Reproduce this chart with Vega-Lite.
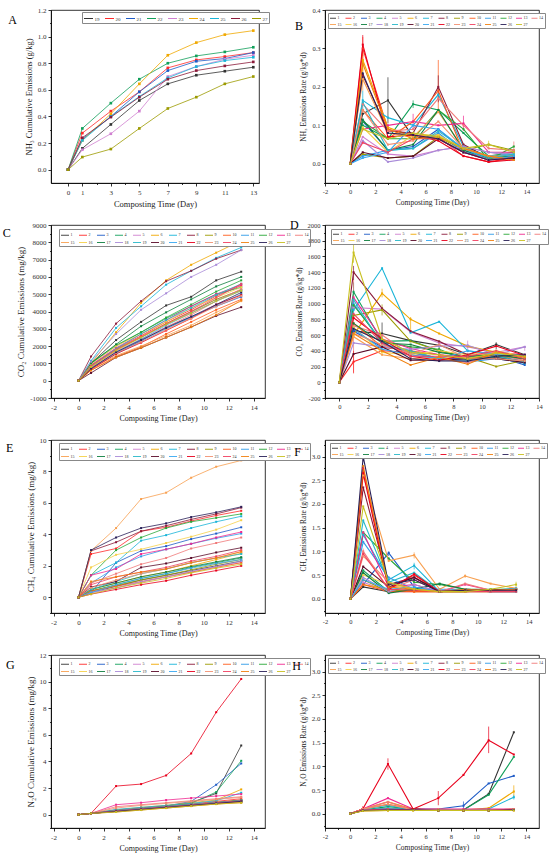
{
"$schema":"https://vega.github.io/schema/vega-lite/v6.json",
"padding":{"left":2,"top":5,"right":2,"bottom":2},
"config":{"font":"Liberation Serif","view":{"stroke":"#000","strokeWidth":0.8},
"axis":{"grid":false,"domainColor":"#000","domainWidth":0.8,"tickColor":"#000","tickWidth":0.8,"labelColor":"#333","labelFont":"Liberation Serif","titleFont":"Liberation Serif","titleFontWeight":"normal","titleColor":"#222","labelPadding":2,"labelFlush":false,"labelOverlap":false},
"legend":{"orient":"none","direction":"horizontal","title":null,"labelFont":"Liberation Serif","labelColor":"#333","symbolType":"stroke","strokeColor":"#888","fillColor":"white","rowPadding":0.5,"labelOffset":1,"symbolOffset":0},
"title":{"fontSize":12,"fontWeight":"normal","font":"Liberation Serif","anchor":"start","frame":"bounds","orient":"top","offset":0,"baseline":"top","color":"#000"}},
"datasets":{
"A":[
{"s":19,"t":0,"v":0},{"s":19,"t":1,"v":0.16},{"s":19,"t":3,"v":0.34},{"s":19,"t":5,"v":0.52},{"s":19,"t":7,"v":0.645},{"s":19,"t":9,"v":0.71},{"s":19,"t":11,"v":0.74},{"s":19,"t":13,"v":0.77},
{"s":20,"t":0,"v":0},{"s":20,"t":1,"v":0.275},{"s":20,"t":3,"v":0.44},{"s":20,"t":5,"v":0.585},{"s":20,"t":7,"v":0.765},{"s":20,"t":9,"v":0.825},{"s":20,"t":11,"v":0.85},{"s":20,"t":13,"v":0.88},
{"s":21,"t":0,"v":0},{"s":21,"t":1,"v":0.23},{"s":21,"t":3,"v":0.40},{"s":21,"t":5,"v":0.585},{"s":21,"t":7,"v":0.745},{"s":21,"t":9,"v":0.815},{"s":21,"t":11,"v":0.835},{"s":21,"t":13,"v":0.88},
{"s":22,"t":0,"v":0},{"s":22,"t":1,"v":0.31},{"s":22,"t":3,"v":0.50},{"s":22,"t":5,"v":0.68},{"s":22,"t":7,"v":0.80},{"s":22,"t":9,"v":0.855},{"s":22,"t":11,"v":0.885},{"s":22,"t":13,"v":0.92},
{"s":23,"t":0,"v":0},{"s":23,"t":1,"v":0.15},{"s":23,"t":3,"v":0.27},{"s":23,"t":5,"v":0.44},{"s":23,"t":7,"v":0.70},{"s":23,"t":9,"v":0.775},{"s":23,"t":11,"v":0.83},{"s":23,"t":13,"v":0.86},
{"s":24,"t":0,"v":0},{"s":24,"t":1,"v":0.22},{"s":24,"t":3,"v":0.42},{"s":24,"t":5,"v":0.645},{"s":24,"t":7,"v":0.86},{"s":24,"t":9,"v":0.955},{"s":24,"t":11,"v":1.015},{"s":24,"t":13,"v":1.045},
{"s":25,"t":0,"v":0},{"s":25,"t":1,"v":0.22},{"s":25,"t":3,"v":0.40},{"s":25,"t":5,"v":0.55},{"s":25,"t":7,"v":0.69},{"s":25,"t":9,"v":0.775},{"s":25,"t":11,"v":0.82},{"s":25,"t":13,"v":0.845},
{"s":26,"t":0,"v":0},{"s":26,"t":1,"v":0.24},{"s":26,"t":3,"v":0.395},{"s":26,"t":5,"v":0.545},{"s":26,"t":7,"v":0.68},{"s":26,"t":9,"v":0.745},{"s":26,"t":11,"v":0.78},{"s":26,"t":13,"v":0.81},
{"s":27,"t":0,"v":0},{"s":27,"t":1,"v":0.095},{"s":27,"t":3,"v":0.155},{"s":27,"t":5,"v":0.31},{"s":27,"t":7,"v":0.46},{"s":27,"t":9,"v":0.545},{"s":27,"t":11,"v":0.645},{"s":27,"t":13,"v":0.70}
],
"B":[
{"s":1,"t":0,"v":0},{"s":1,"t":1,"v":0.13},{"s":1,"t":3,"v":0.165},{"s":1,"t":5,"v":0.07},{"s":1,"t":7,"v":0.065},{"s":1,"t":9,"v":0.03},{"s":1,"t":11,"v":0.015},{"s":1,"t":13,"v":0.015},
{"s":2,"t":0,"v":0},{"s":2,"t":1,"v":0.30},{"s":2,"t":3,"v":0.09},{"s":2,"t":5,"v":0.075},{"s":2,"t":7,"v":0.07},{"s":2,"t":9,"v":0.02},{"s":2,"t":11,"v":0.005},{"s":2,"t":13,"v":0.015},
{"s":3,"t":0,"v":0},{"s":3,"t":1,"v":0.11},{"s":3,"t":3,"v":0.035},{"s":3,"t":5,"v":0.045},{"s":3,"t":7,"v":0.09},{"s":3,"t":9,"v":0.035},{"s":3,"t":11,"v":0.015},{"s":3,"t":13,"v":0.02},
{"s":4,"t":0,"v":0},{"s":4,"t":1,"v":0.10},{"s":4,"t":3,"v":0.065},{"s":4,"t":5,"v":0.155},{"s":4,"t":7,"v":0.14},{"s":4,"t":9,"v":0.08},{"s":4,"t":11,"v":0.02},{"s":4,"t":13,"v":0.03},
{"s":5,"t":0,"v":0},{"s":5,"t":1,"v":0.07},{"s":5,"t":3,"v":0.025},{"s":5,"t":5,"v":0.02},{"s":5,"t":7,"v":0.035},{"s":5,"t":9,"v":0.045},{"s":5,"t":11,"v":0.03},{"s":5,"t":13,"v":0.02},
{"s":6,"t":0,"v":0},{"s":6,"t":1,"v":0.27},{"s":6,"t":3,"v":0.095},{"s":6,"t":5,"v":0.07},{"s":6,"t":7,"v":0.075},{"s":6,"t":9,"v":0.04},{"s":6,"t":11,"v":0.02},{"s":6,"t":13,"v":0.01},
{"s":7,"t":0,"v":0},{"s":7,"t":1,"v":0.165},{"s":7,"t":3,"v":0.12},{"s":7,"t":5,"v":0.10},{"s":7,"t":7,"v":0.18},{"s":7,"t":9,"v":0.045},{"s":7,"t":11,"v":0.02},{"s":7,"t":13,"v":0.025},
{"s":8,"t":0,"v":0},{"s":8,"t":1,"v":0.23},{"s":8,"t":3,"v":0.085},{"s":8,"t":5,"v":0.08},{"s":8,"t":7,"v":0.20},{"s":8,"t":9,"v":0.05},{"s":8,"t":11,"v":0.015},{"s":8,"t":13,"v":0.015},
{"s":9,"t":0,"v":0},{"s":9,"t":1,"v":0.025},{"s":9,"t":3,"v":0.015},{"s":9,"t":5,"v":0.02},{"s":9,"t":7,"v":0.07},{"s":9,"t":9,"v":0.035},{"s":9,"t":11,"v":0.05},{"s":9,"t":13,"v":0.035},
{"s":10,"t":0,"v":0},{"s":10,"t":1,"v":0.14},{"s":10,"t":3,"v":0.065},{"s":10,"t":5,"v":0.11},{"s":10,"t":7,"v":0.19},{"s":10,"t":9,"v":0.03},{"s":10,"t":11,"v":0.015},{"s":10,"t":13,"v":0.015},
{"s":11,"t":0,"v":0},{"s":11,"t":1,"v":0.02},{"s":11,"t":3,"v":0.035},{"s":11,"t":5,"v":0.04},{"s":11,"t":7,"v":0.08},{"s":11,"t":9,"v":0.03},{"s":11,"t":11,"v":0.02},{"s":11,"t":13,"v":0.02},
{"s":12,"t":0,"v":0},{"s":12,"t":1,"v":0.11},{"s":12,"t":3,"v":0.065},{"s":12,"t":5,"v":0.065},{"s":12,"t":7,"v":0.14},{"s":12,"t":9,"v":0.09},{"s":12,"t":11,"v":0.01},{"s":12,"t":13,"v":0.045},
{"s":13,"t":0,"v":0},{"s":13,"t":1,"v":0.09},{"s":13,"t":3,"v":0.10},{"s":13,"t":5,"v":0.11},{"s":13,"t":7,"v":0.10},{"s":13,"t":9,"v":0.105},{"s":13,"t":11,"v":0.03},{"s":13,"t":13,"v":0.03},
{"s":14,"t":0,"v":0},{"s":14,"t":1,"v":0.155},{"s":14,"t":3,"v":0.085},{"s":14,"t":5,"v":0.09},{"s":14,"t":7,"v":0.17},{"s":14,"t":9,"v":0.10},{"s":14,"t":11,"v":0.04},{"s":14,"t":13,"v":0.035},
{"s":15,"t":0,"v":0},{"s":15,"t":1,"v":0.22},{"s":15,"t":3,"v":0.08},{"s":15,"t":5,"v":0.07},{"s":15,"t":7,"v":0.135},{"s":15,"t":9,"v":0.04},{"s":15,"t":11,"v":0.02},{"s":15,"t":13,"v":0.02},
{"s":16,"t":0,"v":0},{"s":16,"t":1,"v":0.095},{"s":16,"t":3,"v":0.03},{"s":16,"t":5,"v":0.075},{"s":16,"t":7,"v":0.075},{"s":16,"t":9,"v":0.04},{"s":16,"t":11,"v":0.015},{"s":16,"t":13,"v":0.02},
{"s":17,"t":0,"v":0},{"s":17,"t":1,"v":0.115},{"s":17,"t":3,"v":0.035},{"s":17,"t":5,"v":0.05},{"s":17,"t":7,"v":0.14},{"s":17,"t":9,"v":0.035},{"s":17,"t":11,"v":0.015},{"s":17,"t":13,"v":0.02},
{"s":18,"t":0,"v":0},{"s":18,"t":1,"v":0.06},{"s":18,"t":3,"v":0.005},{"s":18,"t":5,"v":0.015},{"s":18,"t":7,"v":0.035},{"s":18,"t":9,"v":0.045},{"s":18,"t":11,"v":0.03},{"s":18,"t":13,"v":0.025},
{"s":19,"t":0,"v":0},{"s":19,"t":1,"v":0.16},{"s":19,"t":3,"v":0.035},{"s":19,"t":5,"v":0.04},{"s":19,"t":7,"v":0.085},{"s":19,"t":9,"v":0.04},{"s":19,"t":11,"v":0.015},{"s":19,"t":13,"v":0.025},
{"s":20,"t":0,"v":0},{"s":20,"t":1,"v":0.03},{"s":20,"t":3,"v":0.015},{"s":20,"t":5,"v":0.02},{"s":20,"t":7,"v":0.065},{"s":20,"t":9,"v":0.03},{"s":20,"t":11,"v":0.01},{"s":20,"t":13,"v":0.015},
{"s":21,"t":0,"v":0},{"s":21,"t":1,"v":0.015},{"s":21,"t":3,"v":0.03},{"s":21,"t":5,"v":0.10},{"s":21,"t":7,"v":0.09},{"s":21,"t":9,"v":0.04},{"s":21,"t":11,"v":0.01},{"s":21,"t":13,"v":0.02},
{"s":22,"t":0,"v":0},{"s":22,"t":1,"v":0.31},{"s":22,"t":3,"v":0.07},{"s":22,"t":5,"v":0.075},{"s":22,"t":7,"v":0.06},{"s":22,"t":9,"v":0.02},{"s":22,"t":11,"v":0.005},{"s":22,"t":13,"v":0.01},
{"s":23,"t":0,"v":0},{"s":23,"t":1,"v":0.14},{"s":23,"t":3,"v":0.05},{"s":23,"t":5,"v":0.06},{"s":23,"t":7,"v":0.11},{"s":23,"t":9,"v":0.04},{"s":23,"t":11,"v":0.02},{"s":23,"t":13,"v":0.01},
{"s":24,"t":0,"v":0},{"s":24,"t":1,"v":0.055},{"s":24,"t":3,"v":0.03},{"s":24,"t":5,"v":0.065},{"s":24,"t":7,"v":0.065},{"s":24,"t":9,"v":0.03},{"s":24,"t":11,"v":0.01},{"s":24,"t":13,"v":0.015},
{"s":25,"t":0,"v":0},{"s":25,"t":1,"v":0.26},{"s":25,"t":3,"v":0.09},{"s":25,"t":5,"v":0.065},{"s":25,"t":7,"v":0.07},{"s":25,"t":9,"v":0.04},{"s":25,"t":11,"v":0.02},{"s":25,"t":13,"v":0.01},
{"s":26,"t":0,"v":0},{"s":26,"t":1,"v":0.235},{"s":26,"t":3,"v":0.08},{"s":26,"t":5,"v":0.075},{"s":26,"t":7,"v":0.065},{"s":26,"t":9,"v":0.03},{"s":26,"t":11,"v":0.01},{"s":26,"t":13,"v":0.015},
{"s":27,"t":0,"v":0},{"s":27,"t":1,"v":0.09},{"s":27,"t":3,"v":0.065},{"s":27,"t":5,"v":0.08},{"s":27,"t":7,"v":0.07},{"s":27,"t":9,"v":0.04},{"s":27,"t":11,"v":0.05},{"s":27,"t":13,"v":0.03}
],
"Be":[
{"s":22,"t":1,"v":0.28,"v2":0.335},{"s":2,"t":1,"v":0.27,"v2":0.33},{"s":6,"t":1,"v":0.24,"v2":0.30},{"s":15,"t":1,"v":0.19,"v2":0.25},{"s":7,"t":1,"v":0.14,"v2":0.19},{"s":1,"t":3,"v":0.105,"v2":0.225},{"s":10,"t":7,"v":0.14,"v2":0.27},{"s":8,"t":7,"v":0.16,"v2":0.23},{"s":4,"t":5,"v":0.145,"v2":0.165},{"s":13,"t":9,"v":0.085,"v2":0.125},{"s":27,"t":11,"v":0.04,"v2":0.06},{"s":14,"t":13,"v":0.02,"v2":0.058},{"s":13,"t":5,"v":0.09,"v2":0.13}
],
"C":[
{"s":1,"t":0,"v":0},{"s":1,"t":1,"v":1000},{"s":1,"t":3,"v":2350},{"s":1,"t":5,"v":3400},{"s":1,"t":7,"v":4350},{"s":1,"t":9,"v":4850},{"s":1,"t":11,"v":5800},{"s":1,"t":13,"v":6300},
{"s":2,"t":0,"v":0},{"s":2,"t":1,"v":900},{"s":2,"t":3,"v":1850},{"s":2,"t":5,"v":2600},{"s":2,"t":7,"v":3400},{"s":2,"t":9,"v":4100},{"s":2,"t":11,"v":4900},{"s":2,"t":13,"v":5500},
{"s":3,"t":0,"v":0},{"s":3,"t":1,"v":750},{"s":3,"t":3,"v":1600},{"s":3,"t":5,"v":2300},{"s":3,"t":7,"v":3100},{"s":3,"t":9,"v":3700},{"s":3,"t":11,"v":4300},{"s":3,"t":13,"v":4850},
{"s":4,"t":0,"v":0},{"s":4,"t":1,"v":1000},{"s":4,"t":3,"v":2000},{"s":4,"t":5,"v":2800},{"s":4,"t":7,"v":3600},{"s":4,"t":9,"v":4300},{"s":4,"t":11,"v":5000},{"s":4,"t":13,"v":5400},
{"s":5,"t":0,"v":0},{"s":5,"t":1,"v":800},{"s":5,"t":3,"v":1750},{"s":5,"t":5,"v":2500},{"s":5,"t":7,"v":3250},{"s":5,"t":9,"v":3950},{"s":5,"t":11,"v":4700},{"s":5,"t":13,"v":5250},
{"s":6,"t":0,"v":0},{"s":6,"t":1,"v":1000},{"s":6,"t":3,"v":2800},{"s":6,"t":5,"v":4500},{"s":6,"t":7,"v":5800},{"s":6,"t":9,"v":6700},{"s":6,"t":11,"v":7400},{"s":6,"t":13,"v":8100},
{"s":7,"t":0,"v":0},{"s":7,"t":1,"v":1150},{"s":7,"t":3,"v":3050},{"s":7,"t":5,"v":4300},{"s":7,"t":7,"v":5550},{"s":7,"t":9,"v":6350},{"s":7,"t":11,"v":7100},{"s":7,"t":13,"v":7700},
{"s":8,"t":0,"v":0},{"s":8,"t":1,"v":1400},{"s":8,"t":3,"v":3300},{"s":8,"t":5,"v":4600},{"s":8,"t":7,"v":5750},{"s":8,"t":9,"v":6350},{"s":8,"t":11,"v":7050},{"s":8,"t":13,"v":7550},
{"s":9,"t":0,"v":0},{"s":9,"t":1,"v":850},{"s":9,"t":3,"v":1800},{"s":9,"t":5,"v":2500},{"s":9,"t":7,"v":3300},{"s":9,"t":9,"v":4000},{"s":9,"t":11,"v":4700},{"s":9,"t":13,"v":5250},
{"s":10,"t":0,"v":0},{"s":10,"t":1,"v":600},{"s":10,"t":3,"v":1400},{"s":10,"t":5,"v":1950},{"s":10,"t":7,"v":2700},{"s":10,"t":9,"v":3400},{"s":10,"t":11,"v":4100},{"s":10,"t":13,"v":4700},
{"s":11,"t":0,"v":0},{"s":11,"t":1,"v":700},{"s":11,"t":3,"v":1550},{"s":11,"t":5,"v":2250},{"s":11,"t":7,"v":3000},{"s":11,"t":9,"v":3650},{"s":11,"t":11,"v":4350},{"s":11,"t":13,"v":5000},
{"s":12,"t":0,"v":0},{"s":12,"t":1,"v":1050},{"s":12,"t":3,"v":2050},{"s":12,"t":5,"v":2800},{"s":12,"t":7,"v":3650},{"s":12,"t":9,"v":4400},{"s":12,"t":11,"v":5150},{"s":12,"t":13,"v":5800},
{"s":13,"t":0,"v":0},{"s":13,"t":1,"v":900},{"s":13,"t":3,"v":1900},{"s":13,"t":5,"v":2700},{"s":13,"t":7,"v":3500},{"s":13,"t":9,"v":4300},{"s":13,"t":11,"v":5000},{"s":13,"t":13,"v":5550},
{"s":14,"t":0,"v":0},{"s":14,"t":1,"v":800},{"s":14,"t":3,"v":1700},{"s":14,"t":5,"v":2400},{"s":14,"t":7,"v":3100},{"s":14,"t":9,"v":3800},{"s":14,"t":11,"v":4600},{"s":14,"t":13,"v":5300},
{"s":15,"t":0,"v":0},{"s":15,"t":1,"v":700},{"s":15,"t":3,"v":1450},{"s":15,"t":5,"v":2000},{"s":15,"t":7,"v":2600},{"s":15,"t":9,"v":3200},{"s":15,"t":11,"v":3950},{"s":15,"t":13,"v":4600},
{"s":16,"t":0,"v":0},{"s":16,"t":1,"v":950},{"s":16,"t":3,"v":2000},{"s":16,"t":5,"v":2700},{"s":16,"t":7,"v":3400},{"s":16,"t":9,"v":4200},{"s":16,"t":11,"v":4800},{"s":16,"t":13,"v":5400},
{"s":17,"t":0,"v":0},{"s":17,"t":1,"v":1000},{"s":17,"t":3,"v":2100},{"s":17,"t":5,"v":3150},{"s":17,"t":7,"v":3950},{"s":17,"t":9,"v":4700},{"s":17,"t":11,"v":5450},{"s":17,"t":13,"v":6000},
{"s":18,"t":0,"v":0},{"s":18,"t":1,"v":1100},{"s":18,"t":3,"v":2700},{"s":18,"t":5,"v":4100},{"s":18,"t":7,"v":5050},{"s":18,"t":9,"v":6000},{"s":18,"t":11,"v":6700},{"s":18,"t":13,"v":7550},
{"s":19,"t":0,"v":0},{"s":19,"t":1,"v":850},{"s":19,"t":3,"v":1850},{"s":19,"t":5,"v":2700},{"s":19,"t":7,"v":3500},{"s":19,"t":9,"v":4200},{"s":19,"t":11,"v":4950},{"s":19,"t":13,"v":5600},
{"s":20,"t":0,"v":0},{"s":20,"t":1,"v":450},{"s":20,"t":3,"v":1350},{"s":20,"t":5,"v":1900},{"s":20,"t":7,"v":2500},{"s":20,"t":9,"v":3100},{"s":20,"t":11,"v":3750},{"s":20,"t":13,"v":4250},
{"s":21,"t":0,"v":0},{"s":21,"t":1,"v":700},{"s":21,"t":3,"v":1650},{"s":21,"t":5,"v":2400},{"s":21,"t":7,"v":3200},{"s":21,"t":9,"v":3900},{"s":21,"t":11,"v":4600},{"s":21,"t":13,"v":5200},
{"s":22,"t":0,"v":0},{"s":22,"t":1,"v":650},{"s":22,"t":3,"v":1550},{"s":22,"t":5,"v":2200},{"s":22,"t":7,"v":2900},{"s":22,"t":9,"v":3600},{"s":22,"t":11,"v":4400},{"s":22,"t":13,"v":4950},
{"s":23,"t":0,"v":0},{"s":23,"t":1,"v":750},{"s":23,"t":3,"v":1600},{"s":23,"t":5,"v":2250},{"s":23,"t":7,"v":2950},{"s":23,"t":9,"v":3600},{"s":23,"t":11,"v":4300},{"s":23,"t":13,"v":4900},
{"s":24,"t":0,"v":0},{"s":24,"t":1,"v":850},{"s":24,"t":3,"v":1800},{"s":24,"t":5,"v":2550},{"s":24,"t":7,"v":3300},{"s":24,"t":9,"v":4000},{"s":24,"t":11,"v":4800},{"s":24,"t":13,"v":5600},
{"s":25,"t":0,"v":0},{"s":25,"t":1,"v":600},{"s":25,"t":3,"v":1350},{"s":25,"t":5,"v":1900},{"s":25,"t":7,"v":2500},{"s":25,"t":9,"v":3100},{"s":25,"t":11,"v":3800},{"s":25,"t":13,"v":4650},
{"s":26,"t":0,"v":0},{"s":26,"t":1,"v":700},{"s":26,"t":3,"v":1650},{"s":26,"t":5,"v":2350},{"s":26,"t":7,"v":3050},{"s":26,"t":9,"v":3700},{"s":26,"t":11,"v":4400},{"s":26,"t":13,"v":5100},
{"s":27,"t":0,"v":0},{"s":27,"t":1,"v":800},{"s":27,"t":3,"v":1750},{"s":27,"t":5,"v":2500},{"s":27,"t":7,"v":3250},{"s":27,"t":9,"v":3900},{"s":27,"t":11,"v":4600},{"s":27,"t":13,"v":5200}
],
"D":[
{"s":1,"t":0,"v":0},{"s":1,"t":1,"v":650},{"s":1,"t":3,"v":620},{"s":1,"t":5,"v":530},{"s":1,"t":7,"v":470},{"s":1,"t":9,"v":350},{"s":1,"t":11,"v":480},{"s":1,"t":13,"v":350},
{"s":2,"t":0,"v":0},{"s":2,"t":1,"v":260},{"s":2,"t":3,"v":400},{"s":2,"t":5,"v":380},{"s":2,"t":7,"v":300},{"s":2,"t":9,"v":300},{"s":2,"t":11,"v":330},{"s":2,"t":13,"v":300},
{"s":3,"t":0,"v":0},{"s":3,"t":1,"v":650},{"s":3,"t":3,"v":450},{"s":3,"t":5,"v":400},{"s":3,"t":7,"v":300},{"s":3,"t":9,"v":300},{"s":3,"t":11,"v":330},{"s":3,"t":13,"v":220},
{"s":4,"t":0,"v":0},{"s":4,"t":1,"v":1150},{"s":4,"t":3,"v":520},{"s":4,"t":5,"v":530},{"s":4,"t":7,"v":400},{"s":4,"t":9,"v":300},{"s":4,"t":11,"v":320},{"s":4,"t":13,"v":250},
{"s":5,"t":0,"v":0},{"s":5,"t":1,"v":950},{"s":5,"t":3,"v":930},{"s":5,"t":5,"v":640},{"s":5,"t":7,"v":500},{"s":5,"t":9,"v":450},{"s":5,"t":11,"v":380},{"s":5,"t":13,"v":450},
{"s":6,"t":0,"v":0},{"s":6,"t":1,"v":600},{"s":6,"t":3,"v":1130},{"s":6,"t":5,"v":800},{"s":6,"t":7,"v":620},{"s":6,"t":9,"v":460},{"s":6,"t":11,"v":380},{"s":6,"t":13,"v":330},
{"s":7,"t":0,"v":0},{"s":7,"t":1,"v":920},{"s":7,"t":3,"v":1450},{"s":7,"t":5,"v":630},{"s":7,"t":7,"v":770},{"s":7,"t":9,"v":400},{"s":7,"t":11,"v":350},{"s":7,"t":13,"v":240},
{"s":8,"t":0,"v":0},{"s":8,"t":1,"v":1400},{"s":8,"t":3,"v":940},{"s":8,"t":5,"v":650},{"s":8,"t":7,"v":520},{"s":8,"t":9,"v":350},{"s":8,"t":11,"v":320},{"s":8,"t":13,"v":270},
{"s":9,"t":0,"v":0},{"s":9,"t":1,"v":850},{"s":9,"t":3,"v":920},{"s":9,"t":5,"v":520},{"s":9,"t":7,"v":400},{"s":9,"t":9,"v":320},{"s":9,"t":11,"v":200},{"s":9,"t":13,"v":280},
{"s":10,"t":0,"v":0},{"s":10,"t":1,"v":750},{"s":10,"t":3,"v":450},{"s":10,"t":5,"v":400},{"s":10,"t":7,"v":350},{"s":10,"t":9,"v":300},{"s":10,"t":11,"v":350},{"s":10,"t":13,"v":300},
{"s":11,"t":0,"v":0},{"s":11,"t":1,"v":1000},{"s":11,"t":3,"v":500},{"s":11,"t":5,"v":380},{"s":11,"t":7,"v":300},{"s":11,"t":9,"v":260},{"s":11,"t":11,"v":300},{"s":11,"t":13,"v":250},
{"s":12,"t":0,"v":0},{"s":12,"t":1,"v":980},{"s":12,"t":3,"v":520},{"s":12,"t":5,"v":450},{"s":12,"t":7,"v":420},{"s":12,"t":9,"v":280},{"s":12,"t":11,"v":330},{"s":12,"t":13,"v":300},
{"s":13,"t":0,"v":0},{"s":13,"t":1,"v":1080},{"s":13,"t":3,"v":550},{"s":13,"t":5,"v":430},{"s":13,"t":7,"v":350},{"s":13,"t":9,"v":320},{"s":13,"t":11,"v":380},{"s":13,"t":13,"v":350},
{"s":14,"t":0,"v":0},{"s":14,"t":1,"v":720},{"s":14,"t":3,"v":600},{"s":14,"t":5,"v":350},{"s":14,"t":7,"v":300},{"s":14,"t":9,"v":250},{"s":14,"t":11,"v":350},{"s":14,"t":13,"v":280},
{"s":15,"t":0,"v":0},{"s":15,"t":1,"v":580},{"s":15,"t":3,"v":350},{"s":15,"t":5,"v":300},{"s":15,"t":7,"v":320},{"s":15,"t":9,"v":320},{"s":15,"t":11,"v":380},{"s":15,"t":13,"v":300},
{"s":16,"t":0,"v":0},{"s":16,"t":1,"v":700},{"s":16,"t":3,"v":380},{"s":16,"t":5,"v":350},{"s":16,"t":7,"v":400},{"s":16,"t":9,"v":350},{"s":16,"t":11,"v":400},{"s":16,"t":13,"v":330},
{"s":17,"t":0,"v":0},{"s":17,"t":1,"v":750},{"s":17,"t":3,"v":500},{"s":17,"t":5,"v":480},{"s":17,"t":7,"v":380},{"s":17,"t":9,"v":330},{"s":17,"t":11,"v":350},{"s":17,"t":13,"v":300},
{"s":18,"t":0,"v":0},{"s":18,"t":1,"v":500},{"s":18,"t":3,"v":450},{"s":18,"t":5,"v":420},{"s":18,"t":7,"v":460},{"s":18,"t":9,"v":470},{"s":18,"t":11,"v":350},{"s":18,"t":13,"v":450},
{"s":19,"t":0,"v":0},{"s":19,"t":1,"v":1050},{"s":19,"t":3,"v":480},{"s":19,"t":5,"v":400},{"s":19,"t":7,"v":300},{"s":19,"t":9,"v":280},{"s":19,"t":11,"v":330},{"s":19,"t":13,"v":260},
{"s":20,"t":0,"v":0},{"s":20,"t":1,"v":360},{"s":20,"t":3,"v":450},{"s":20,"t":5,"v":280},{"s":20,"t":7,"v":280},{"s":20,"t":9,"v":300},{"s":20,"t":11,"v":300},{"s":20,"t":13,"v":250},
{"s":21,"t":0,"v":0},{"s":21,"t":1,"v":680},{"s":21,"t":3,"v":420},{"s":21,"t":5,"v":350},{"s":21,"t":7,"v":300},{"s":21,"t":9,"v":400},{"s":21,"t":11,"v":360},{"s":21,"t":13,"v":340},
{"s":22,"t":0,"v":0},{"s":22,"t":1,"v":820},{"s":22,"t":3,"v":550},{"s":22,"t":5,"v":330},{"s":22,"t":7,"v":280},{"s":22,"t":9,"v":350},{"s":22,"t":11,"v":460},{"s":22,"t":13,"v":340},
{"s":23,"t":0,"v":0},{"s":23,"t":1,"v":620},{"s":23,"t":3,"v":480},{"s":23,"t":5,"v":360},{"s":23,"t":7,"v":480},{"s":23,"t":9,"v":300},{"s":23,"t":11,"v":300},{"s":23,"t":13,"v":270},
{"s":24,"t":0,"v":0},{"s":24,"t":1,"v":870},{"s":24,"t":3,"v":500},{"s":24,"t":5,"v":330},{"s":24,"t":7,"v":330},{"s":24,"t":9,"v":330},{"s":24,"t":11,"v":400},{"s":24,"t":13,"v":300},
{"s":25,"t":0,"v":0},{"s":25,"t":1,"v":620},{"s":25,"t":3,"v":400},{"s":25,"t":5,"v":220},{"s":25,"t":7,"v":320},{"s":25,"t":9,"v":230},{"s":25,"t":11,"v":380},{"s":25,"t":13,"v":320},
{"s":26,"t":0,"v":0},{"s":26,"t":1,"v":680},{"s":26,"t":3,"v":520},{"s":26,"t":5,"v":300},{"s":26,"t":7,"v":270},{"s":26,"t":9,"v":270},{"s":26,"t":11,"v":330},{"s":26,"t":13,"v":350},
{"s":27,"t":0,"v":0},{"s":27,"t":1,"v":1650},{"s":27,"t":3,"v":550},{"s":27,"t":5,"v":380},{"s":27,"t":7,"v":350},{"s":27,"t":9,"v":300},{"s":27,"t":11,"v":370},{"s":27,"t":13,"v":330}
],
"De":[
{"s":27,"t":1,"v":1520,"v2":1780},{"s":4,"t":1,"v":1050,"v2":1270},{"s":8,"t":1,"v":1300,"v2":1480},{"s":14,"t":1,"v":110,"v2":1300},{"s":2,"t":1,"v":120,"v2":400},{"s":6,"t":3,"v":1080,"v2":1190},{"s":1,"t":3,"v":480,"v2":760},{"s":9,"t":3,"v":850,"v2":990},{"s":6,"t":5,"v":650,"v2":830},{"s":1,"t":7,"v":270,"v2":470},{"s":5,"t":9,"v":380,"v2":530},{"s":1,"t":11,"v":420,"v2":510},{"s":5,"t":13,"v":400,"v2":460}
],
"E":[
{"s":1,"t":0,"v":0},{"s":1,"t":1,"v":0.3},{"s":1,"t":3,"v":0.7},{"s":1,"t":5,"v":1.1},{"s":1,"t":7,"v":1.4},{"s":1,"t":9,"v":1.7},{"s":1,"t":11,"v":2.0},{"s":1,"t":13,"v":2.3},
{"s":2,"t":0,"v":0},{"s":2,"t":1,"v":2.75},{"s":2,"t":3,"v":3.1},{"s":2,"t":5,"v":4.2},{"s":2,"t":7,"v":4.45},{"s":2,"t":9,"v":4.85},{"s":2,"t":11,"v":5.2},{"s":2,"t":13,"v":5.5},
{"s":3,"t":0,"v":0},{"s":3,"t":1,"v":0.3},{"s":3,"t":3,"v":2.2},{"s":3,"t":5,"v":2.95},{"s":3,"t":7,"v":3.25},{"s":3,"t":9,"v":3.7},{"s":3,"t":11,"v":4.05},{"s":3,"t":13,"v":4.45},
{"s":4,"t":0,"v":0},{"s":4,"t":1,"v":0.4},{"s":4,"t":3,"v":0.8},{"s":4,"t":5,"v":1.2},{"s":4,"t":7,"v":1.5},{"s":4,"t":9,"v":1.9},{"s":4,"t":11,"v":2.2},{"s":4,"t":13,"v":2.5},
{"s":5,"t":0,"v":0},{"s":5,"t":1,"v":0.3},{"s":5,"t":3,"v":0.6},{"s":5,"t":5,"v":0.95},{"s":5,"t":7,"v":1.3},{"s":5,"t":9,"v":1.6},{"s":5,"t":11,"v":1.95},{"s":5,"t":13,"v":2.2},
{"s":6,"t":0,"v":0},{"s":6,"t":1,"v":0.5},{"s":6,"t":3,"v":0.9},{"s":6,"t":5,"v":1.3},{"s":6,"t":7,"v":1.6},{"s":6,"t":9,"v":2.0},{"s":6,"t":11,"v":2.4},{"s":6,"t":13,"v":2.8},
{"s":7,"t":0,"v":0},{"s":7,"t":1,"v":1.4},{"s":7,"t":3,"v":2.2},{"s":7,"t":5,"v":3.6},{"s":7,"t":7,"v":3.95},{"s":7,"t":9,"v":4.4},{"s":7,"t":11,"v":4.8},{"s":7,"t":13,"v":5.15},
{"s":8,"t":0,"v":0},{"s":8,"t":1,"v":2.95},{"s":8,"t":3,"v":3.5},{"s":8,"t":5,"v":4.2},{"s":8,"t":7,"v":4.55},{"s":8,"t":9,"v":4.95},{"s":8,"t":11,"v":5.3},{"s":8,"t":13,"v":5.7},
{"s":9,"t":0,"v":0},{"s":9,"t":1,"v":0.4},{"s":9,"t":3,"v":0.75},{"s":9,"t":5,"v":1.1},{"s":9,"t":7,"v":1.4},{"s":9,"t":9,"v":1.75},{"s":9,"t":11,"v":2.1},{"s":9,"t":13,"v":2.4},
{"s":10,"t":0,"v":0},{"s":10,"t":1,"v":0.4},{"s":10,"t":3,"v":0.7},{"s":10,"t":5,"v":1.0},{"s":10,"t":7,"v":1.3},{"s":10,"t":9,"v":1.6},{"s":10,"t":11,"v":1.9},{"s":10,"t":13,"v":2.2},
{"s":11,"t":0,"v":0},{"s":11,"t":1,"v":0.9},{"s":11,"t":3,"v":1.9},{"s":11,"t":5,"v":2.6},{"s":11,"t":7,"v":3.05},{"s":11,"t":9,"v":3.4},{"s":11,"t":11,"v":3.75},{"s":11,"t":13,"v":4.05},
{"s":12,"t":0,"v":0},{"s":12,"t":1,"v":1.4},{"s":12,"t":3,"v":3.0},{"s":12,"t":5,"v":3.8},{"s":12,"t":7,"v":4.4},{"s":12,"t":9,"v":4.8},{"s":12,"t":11,"v":5.05},{"s":12,"t":13,"v":5.3},
{"s":13,"t":0,"v":0},{"s":13,"t":1,"v":1.4},{"s":13,"t":3,"v":1.8},{"s":13,"t":5,"v":2.75},{"s":13,"t":7,"v":3.05},{"s":13,"t":9,"v":3.4},{"s":13,"t":11,"v":3.8},{"s":13,"t":13,"v":4.15},
{"s":14,"t":0,"v":0},{"s":14,"t":1,"v":0.9},{"s":14,"t":3,"v":1.5},{"s":14,"t":5,"v":2.1},{"s":14,"t":7,"v":2.5},{"s":14,"t":9,"v":3.1},{"s":14,"t":11,"v":3.45},{"s":14,"t":13,"v":3.8},
{"s":15,"t":0,"v":0},{"s":15,"t":1,"v":2.95},{"s":15,"t":3,"v":4.4},{"s":15,"t":5,"v":6.25},{"s":15,"t":7,"v":6.65},{"s":15,"t":9,"v":7.6},{"s":15,"t":11,"v":8.3},{"s":15,"t":13,"v":8.7},
{"s":16,"t":0,"v":0},{"s":16,"t":1,"v":1.9},{"s":16,"t":3,"v":2.7},{"s":16,"t":5,"v":3.05},{"s":16,"t":7,"v":3.45},{"s":16,"t":9,"v":3.85},{"s":16,"t":11,"v":4.3},{"s":16,"t":13,"v":4.9},
{"s":17,"t":0,"v":0},{"s":17,"t":1,"v":0.5},{"s":17,"t":3,"v":0.9},{"s":17,"t":5,"v":1.3},{"s":17,"t":7,"v":1.6},{"s":17,"t":9,"v":1.95},{"s":17,"t":11,"v":2.25},{"s":17,"t":13,"v":2.55},
{"s":18,"t":0,"v":0},{"s":18,"t":1,"v":0.3},{"s":18,"t":3,"v":0.6},{"s":18,"t":5,"v":1.0},{"s":18,"t":7,"v":1.3},{"s":18,"t":9,"v":1.65},{"s":18,"t":11,"v":1.95},{"s":18,"t":13,"v":2.3},
{"s":19,"t":0,"v":0},{"s":19,"t":1,"v":0.5},{"s":19,"t":3,"v":1.0},{"s":19,"t":5,"v":1.5},{"s":19,"t":7,"v":1.8},{"s":19,"t":9,"v":2.2},{"s":19,"t":11,"v":2.5},{"s":19,"t":13,"v":2.75},
{"s":20,"t":0,"v":0},{"s":20,"t":1,"v":0.65},{"s":20,"t":3,"v":1.0},{"s":20,"t":5,"v":1.9},{"s":20,"t":7,"v":2.15},{"s":20,"t":9,"v":2.5},{"s":20,"t":11,"v":2.85},{"s":20,"t":13,"v":3.15},
{"s":21,"t":0,"v":0},{"s":21,"t":1,"v":0.3},{"s":21,"t":3,"v":0.8},{"s":21,"t":5,"v":1.2},{"s":21,"t":7,"v":1.5},{"s":21,"t":9,"v":1.85},{"s":21,"t":11,"v":2.15},{"s":21,"t":13,"v":2.4},
{"s":22,"t":0,"v":0},{"s":22,"t":1,"v":0.2},{"s":22,"t":3,"v":0.5},{"s":22,"t":5,"v":0.8},{"s":22,"t":7,"v":1.05},{"s":22,"t":9,"v":1.4},{"s":22,"t":11,"v":1.7},{"s":22,"t":13,"v":2.0},
{"s":23,"t":0,"v":0},{"s":23,"t":1,"v":0.6},{"s":23,"t":3,"v":1.1},{"s":23,"t":5,"v":1.5},{"s":23,"t":7,"v":1.8},{"s":23,"t":9,"v":2.2},{"s":23,"t":11,"v":2.5},{"s":23,"t":13,"v":2.9},
{"s":24,"t":0,"v":0},{"s":24,"t":1,"v":0.8},{"s":24,"t":3,"v":1.3},{"s":24,"t":5,"v":1.6},{"s":24,"t":7,"v":1.9},{"s":24,"t":9,"v":2.3},{"s":24,"t":11,"v":2.6},{"s":24,"t":13,"v":3.0},
{"s":25,"t":0,"v":0},{"s":25,"t":1,"v":1.0},{"s":25,"t":3,"v":1.3},{"s":25,"t":5,"v":1.6},{"s":25,"t":7,"v":1.8},{"s":25,"t":9,"v":2.2},{"s":25,"t":11,"v":2.5},{"s":25,"t":13,"v":2.9},
{"s":26,"t":0,"v":0},{"s":26,"t":1,"v":3.0},{"s":26,"t":3,"v":3.8},{"s":26,"t":5,"v":4.4},{"s":26,"t":7,"v":4.7},{"s":26,"t":9,"v":5.1},{"s":26,"t":11,"v":5.4},{"s":26,"t":13,"v":5.75},
{"s":27,"t":0,"v":0},{"s":27,"t":1,"v":0.2},{"s":27,"t":3,"v":0.6},{"s":27,"t":5,"v":0.9},{"s":27,"t":7,"v":1.2},{"s":27,"t":9,"v":1.55},{"s":27,"t":11,"v":1.85},{"s":27,"t":13,"v":2.1}
],
"F":[
{"s":1,"t":0,"v":0},{"s":1,"t":1,"v":0.25},{"s":1,"t":3,"v":0.15},{"s":1,"t":5,"v":0.18},{"s":1,"t":7,"v":0.15},{"s":1,"t":9,"v":0.18},{"s":1,"t":11,"v":0.15},{"s":1,"t":13,"v":0.15},
{"s":2,"t":0,"v":0},{"s":2,"t":1,"v":2.75},{"s":2,"t":3,"v":0.2},{"s":2,"t":5,"v":0.5},{"s":2,"t":7,"v":0.15},{"s":2,"t":9,"v":0.2},{"s":2,"t":11,"v":0.18},{"s":2,"t":13,"v":0.18},
{"s":3,"t":0,"v":0},{"s":3,"t":1,"v":0.3},{"s":3,"t":3,"v":0.97},{"s":3,"t":5,"v":0.25},{"s":3,"t":7,"v":0.15},{"s":3,"t":9,"v":0.2},{"s":3,"t":11,"v":0.15},{"s":3,"t":13,"v":0.2},
{"s":4,"t":0,"v":0},{"s":4,"t":1,"v":0.6},{"s":4,"t":3,"v":0.15},{"s":4,"t":5,"v":0.2},{"s":4,"t":7,"v":0.15},{"s":4,"t":9,"v":0.15},{"s":4,"t":11,"v":0.18},{"s":4,"t":13,"v":0.2},
{"s":5,"t":0,"v":0},{"s":5,"t":1,"v":0.35},{"s":5,"t":3,"v":0.15},{"s":5,"t":5,"v":0.15},{"s":5,"t":7,"v":0.15},{"s":5,"t":9,"v":0.18},{"s":5,"t":11,"v":0.15},{"s":5,"t":13,"v":0.15},
{"s":6,"t":0,"v":0},{"s":6,"t":1,"v":0.3},{"s":6,"t":3,"v":0.2},{"s":6,"t":5,"v":0.15},{"s":6,"t":7,"v":0.15},{"s":6,"t":9,"v":0.15},{"s":6,"t":11,"v":0.18},{"s":6,"t":13,"v":0.2},
{"s":7,"t":0,"v":0},{"s":7,"t":1,"v":1.35},{"s":7,"t":3,"v":0.4},{"s":7,"t":5,"v":0.7},{"s":7,"t":7,"v":0.15},{"s":7,"t":9,"v":0.2},{"s":7,"t":11,"v":0.18},{"s":7,"t":13,"v":0.22},
{"s":8,"t":0,"v":0},{"s":8,"t":1,"v":2.35},{"s":8,"t":3,"v":0.3},{"s":8,"t":5,"v":0.45},{"s":8,"t":7,"v":0.15},{"s":8,"t":9,"v":0.18},{"s":8,"t":11,"v":0.18},{"s":8,"t":13,"v":0.2},
{"s":9,"t":0,"v":0},{"s":9,"t":1,"v":0.4},{"s":9,"t":3,"v":0.15},{"s":9,"t":5,"v":0.2},{"s":9,"t":7,"v":0.15},{"s":9,"t":9,"v":0.15},{"s":9,"t":11,"v":0.15},{"s":9,"t":13,"v":0.15},
{"s":10,"t":0,"v":0},{"s":10,"t":1,"v":0.3},{"s":10,"t":3,"v":0.15},{"s":10,"t":5,"v":0.15},{"s":10,"t":7,"v":0.15},{"s":10,"t":9,"v":0.18},{"s":10,"t":11,"v":0.18},{"s":10,"t":13,"v":0.18},
{"s":11,"t":0,"v":0},{"s":11,"t":1,"v":1.2},{"s":11,"t":3,"v":0.45},{"s":11,"t":5,"v":0.2},{"s":11,"t":7,"v":0.2},{"s":11,"t":9,"v":0.2},{"s":11,"t":11,"v":0.18},{"s":11,"t":13,"v":0.2},
{"s":12,"t":0,"v":0},{"s":12,"t":1,"v":1.4},{"s":12,"t":3,"v":0.85},{"s":12,"t":5,"v":0.35},{"s":12,"t":7,"v":0.3},{"s":12,"t":9,"v":0.2},{"s":12,"t":11,"v":0.2},{"s":12,"t":13,"v":0.2},
{"s":13,"t":0,"v":0},{"s":13,"t":1,"v":1.4},{"s":13,"t":3,"v":0.25},{"s":13,"t":5,"v":0.3},{"s":13,"t":7,"v":0.15},{"s":13,"t":9,"v":0.3},{"s":13,"t":11,"v":0.18},{"s":13,"t":13,"v":0.2},
{"s":14,"t":0,"v":0},{"s":14,"t":1,"v":1.0},{"s":14,"t":3,"v":0.2},{"s":14,"t":5,"v":0.4},{"s":14,"t":7,"v":0.15},{"s":14,"t":9,"v":0.32},{"s":14,"t":11,"v":0.18},{"s":14,"t":13,"v":0.2},
{"s":15,"t":0,"v":0},{"s":15,"t":1,"v":2.6},{"s":15,"t":3,"v":0.8},{"s":15,"t":5,"v":0.92},{"s":15,"t":7,"v":0.2},{"s":15,"t":9,"v":0.48},{"s":15,"t":11,"v":0.32},{"s":15,"t":13,"v":0.22},
{"s":16,"t":0,"v":0},{"s":16,"t":1,"v":0.5},{"s":16,"t":3,"v":0.3},{"s":16,"t":5,"v":0.2},{"s":16,"t":7,"v":0.15},{"s":16,"t":9,"v":0.15},{"s":16,"t":11,"v":0.18},{"s":16,"t":13,"v":0.2},
{"s":17,"t":0,"v":0},{"s":17,"t":1,"v":0.55},{"s":17,"t":3,"v":0.12},{"s":17,"t":5,"v":0.2},{"s":17,"t":7,"v":0.32},{"s":17,"t":9,"v":0.2},{"s":17,"t":11,"v":0.18},{"s":17,"t":13,"v":0.2},
{"s":18,"t":0,"v":0},{"s":18,"t":1,"v":0.45},{"s":18,"t":3,"v":0.15},{"s":18,"t":5,"v":0.3},{"s":18,"t":7,"v":0.15},{"s":18,"t":9,"v":0.18},{"s":18,"t":11,"v":0.15},{"s":18,"t":13,"v":0.15},
{"s":19,"t":0,"v":0},{"s":19,"t":1,"v":1.65},{"s":19,"t":3,"v":0.35},{"s":19,"t":5,"v":0.55},{"s":19,"t":7,"v":0.15},{"s":19,"t":9,"v":0.2},{"s":19,"t":11,"v":0.18},{"s":19,"t":13,"v":0.15},
{"s":20,"t":0,"v":0},{"s":20,"t":1,"v":0.68},{"s":20,"t":3,"v":0.25},{"s":20,"t":5,"v":0.45},{"s":20,"t":7,"v":0.15},{"s":20,"t":9,"v":0.18},{"s":20,"t":11,"v":0.18},{"s":20,"t":13,"v":0.2},
{"s":21,"t":0,"v":0},{"s":21,"t":1,"v":0.4},{"s":21,"t":3,"v":0.2},{"s":21,"t":5,"v":0.25},{"s":21,"t":7,"v":0.15},{"s":21,"t":9,"v":0.2},{"s":21,"t":11,"v":0.15},{"s":21,"t":13,"v":0.22},
{"s":22,"t":0,"v":0},{"s":22,"t":1,"v":2.65},{"s":22,"t":3,"v":0.2},{"s":22,"t":5,"v":0.52},{"s":22,"t":7,"v":0.15},{"s":22,"t":9,"v":0.18},{"s":22,"t":11,"v":0.18},{"s":22,"t":13,"v":0.18},
{"s":23,"t":0,"v":0},{"s":23,"t":1,"v":0.9},{"s":23,"t":3,"v":0.35},{"s":23,"t":5,"v":0.2},{"s":23,"t":7,"v":0.15},{"s":23,"t":9,"v":0.15},{"s":23,"t":11,"v":0.15},{"s":23,"t":13,"v":0.18},
{"s":24,"t":0,"v":0},{"s":24,"t":1,"v":0.95},{"s":24,"t":3,"v":0.2},{"s":24,"t":5,"v":0.18},{"s":24,"t":7,"v":0.15},{"s":24,"t":9,"v":0.15},{"s":24,"t":11,"v":0.15},{"s":24,"t":13,"v":0.15},
{"s":25,"t":0,"v":0},{"s":25,"t":1,"v":2.8},{"s":25,"t":3,"v":0.25},{"s":25,"t":5,"v":0.2},{"s":25,"t":7,"v":0.15},{"s":25,"t":9,"v":0.2},{"s":25,"t":11,"v":0.18},{"s":25,"t":13,"v":0.2},
{"s":26,"t":0,"v":0},{"s":26,"t":1,"v":3.0},{"s":26,"t":3,"v":0.3},{"s":26,"t":5,"v":0.4},{"s":26,"t":7,"v":0.15},{"s":26,"t":9,"v":0.18},{"s":26,"t":11,"v":0.18},{"s":26,"t":13,"v":0.18},
{"s":27,"t":0,"v":0},{"s":27,"t":1,"v":1.95},{"s":27,"t":3,"v":0.35},{"s":27,"t":5,"v":0.2},{"s":27,"t":7,"v":0.15},{"s":27,"t":9,"v":0.15},{"s":27,"t":11,"v":0.2},{"s":27,"t":13,"v":0.3}
],
"Fe":[
{"s":26,"t":1,"v":2.9,"v2":3.08},{"s":15,"t":5,"v":0.85,"v2":0.98},{"s":3,"t":3,"v":0.9,"v2":1.0},{"s":7,"t":5,"v":0.62,"v2":0.76},{"s":15,"t":9,"v":0.44,"v2":0.52},{"s":27,"t":13,"v":0.25,"v2":0.36},{"s":14,"t":1,"v":0.92,"v2":1.06}
],
"G":[
{"s":1,"t":0,"v":0},{"s":1,"t":1,"v":0.1},{"s":1,"t":3,"v":0.3},{"s":1,"t":5,"v":0.5},{"s":1,"t":7,"v":0.65},{"s":1,"t":9,"v":0.9},{"s":1,"t":11,"v":1.6},{"s":1,"t":13,"v":5.2},
{"s":2,"t":0,"v":0},{"s":2,"t":1,"v":0.1},{"s":2,"t":3,"v":0.3},{"s":2,"t":5,"v":0.45},{"s":2,"t":7,"v":0.6},{"s":2,"t":9,"v":0.8},{"s":2,"t":11,"v":1.0},{"s":2,"t":13,"v":1.2},
{"s":3,"t":0,"v":0},{"s":3,"t":1,"v":0.1},{"s":3,"t":3,"v":0.3},{"s":3,"t":5,"v":0.5},{"s":3,"t":7,"v":0.65},{"s":3,"t":9,"v":1.0},{"s":3,"t":11,"v":2.25},{"s":3,"t":13,"v":3.85},
{"s":4,"t":0,"v":0},{"s":4,"t":1,"v":0.1},{"s":4,"t":3,"v":0.35},{"s":4,"t":5,"v":0.5},{"s":4,"t":7,"v":0.65},{"s":4,"t":9,"v":0.85},{"s":4,"t":11,"v":1.7},{"s":4,"t":13,"v":4.05},
{"s":5,"t":0,"v":0},{"s":5,"t":1,"v":0.1},{"s":5,"t":3,"v":0.3},{"s":5,"t":5,"v":0.5},{"s":5,"t":7,"v":0.6},{"s":5,"t":9,"v":0.75},{"s":5,"t":11,"v":0.9},{"s":5,"t":13,"v":1.1},
{"s":6,"t":0,"v":0},{"s":6,"t":1,"v":0.1},{"s":6,"t":3,"v":0.35},{"s":6,"t":5,"v":0.55},{"s":6,"t":7,"v":0.7},{"s":6,"t":9,"v":0.9},{"s":6,"t":11,"v":1.1},{"s":6,"t":13,"v":1.9},
{"s":7,"t":0,"v":0},{"s":7,"t":1,"v":0.1},{"s":7,"t":3,"v":0.4},{"s":7,"t":5,"v":0.55},{"s":7,"t":7,"v":0.7},{"s":7,"t":9,"v":0.85},{"s":7,"t":11,"v":1.05},{"s":7,"t":13,"v":1.65},
{"s":8,"t":0,"v":0},{"s":8,"t":1,"v":0.1},{"s":8,"t":3,"v":0.25},{"s":8,"t":5,"v":0.4},{"s":8,"t":7,"v":0.55},{"s":8,"t":9,"v":0.7},{"s":8,"t":11,"v":0.85},{"s":8,"t":13,"v":1.0},
{"s":9,"t":0,"v":0},{"s":9,"t":1,"v":0.1},{"s":9,"t":3,"v":0.25},{"s":9,"t":5,"v":0.4},{"s":9,"t":7,"v":0.55},{"s":9,"t":9,"v":0.7},{"s":9,"t":11,"v":0.85},{"s":9,"t":13,"v":0.95},
{"s":10,"t":0,"v":0},{"s":10,"t":1,"v":0.1},{"s":10,"t":3,"v":0.3},{"s":10,"t":5,"v":0.45},{"s":10,"t":7,"v":0.6},{"s":10,"t":9,"v":0.75},{"s":10,"t":11,"v":0.95},{"s":10,"t":13,"v":1.1},
{"s":11,"t":0,"v":0},{"s":11,"t":1,"v":0.1},{"s":11,"t":3,"v":0.3},{"s":11,"t":5,"v":0.45},{"s":11,"t":7,"v":0.6},{"s":11,"t":9,"v":0.75},{"s":11,"t":11,"v":0.9},{"s":11,"t":13,"v":1.05},
{"s":12,"t":0,"v":0},{"s":12,"t":1,"v":0.1},{"s":12,"t":3,"v":0.3},{"s":12,"t":5,"v":0.45},{"s":12,"t":7,"v":0.6},{"s":12,"t":9,"v":0.75},{"s":12,"t":11,"v":0.9},{"s":12,"t":13,"v":1.1},
{"s":13,"t":0,"v":0},{"s":13,"t":1,"v":0.1},{"s":13,"t":3,"v":0.75},{"s":13,"t":5,"v":0.9},{"s":13,"t":7,"v":1.1},{"s":13,"t":9,"v":1.25},{"s":13,"t":11,"v":1.4},{"s":13,"t":13,"v":1.55},
{"s":14,"t":0,"v":0},{"s":14,"t":1,"v":0.1},{"s":14,"t":3,"v":0.6},{"s":14,"t":5,"v":0.75},{"s":14,"t":7,"v":0.9},{"s":14,"t":9,"v":1.05},{"s":14,"t":11,"v":1.2},{"s":14,"t":13,"v":1.35},
{"s":15,"t":0,"v":0},{"s":15,"t":1,"v":0.1},{"s":15,"t":3,"v":0.25},{"s":15,"t":5,"v":0.4},{"s":15,"t":7,"v":0.55},{"s":15,"t":9,"v":0.7},{"s":15,"t":11,"v":0.85},{"s":15,"t":13,"v":1.0},
{"s":16,"t":0,"v":0},{"s":16,"t":1,"v":0.1},{"s":16,"t":3,"v":0.25},{"s":16,"t":5,"v":0.4},{"s":16,"t":7,"v":0.5},{"s":16,"t":9,"v":0.65},{"s":16,"t":11,"v":0.8},{"s":16,"t":13,"v":0.95},
{"s":17,"t":0,"v":0},{"s":17,"t":1,"v":0.1},{"s":17,"t":3,"v":0.3},{"s":17,"t":5,"v":0.45},{"s":17,"t":7,"v":0.6},{"s":17,"t":9,"v":0.75},{"s":17,"t":11,"v":0.9},{"s":17,"t":13,"v":1.05},
{"s":18,"t":0,"v":0},{"s":18,"t":1,"v":0.1},{"s":18,"t":3,"v":0.25},{"s":18,"t":5,"v":0.4},{"s":18,"t":7,"v":0.55},{"s":18,"t":9,"v":0.7},{"s":18,"t":11,"v":0.85},{"s":18,"t":13,"v":1.0},
{"s":19,"t":0,"v":0},{"s":19,"t":1,"v":0.1},{"s":19,"t":3,"v":0.3},{"s":19,"t":5,"v":0.45},{"s":19,"t":7,"v":0.6},{"s":19,"t":9,"v":0.75},{"s":19,"t":11,"v":0.9},{"s":19,"t":13,"v":1.05},
{"s":20,"t":0,"v":0},{"s":20,"t":1,"v":0.1},{"s":20,"t":3,"v":0.25},{"s":20,"t":5,"v":0.4},{"s":20,"t":7,"v":0.55},{"s":20,"t":9,"v":0.7},{"s":20,"t":11,"v":0.85},{"s":20,"t":13,"v":1.0},
{"s":21,"t":0,"v":0},{"s":21,"t":1,"v":0.1},{"s":21,"t":3,"v":0.3},{"s":21,"t":5,"v":0.45},{"s":21,"t":7,"v":0.6},{"s":21,"t":9,"v":0.75},{"s":21,"t":11,"v":0.9},{"s":21,"t":13,"v":1.05},
{"s":22,"t":0,"v":0},{"s":22,"t":1,"v":0.1},{"s":22,"t":3,"v":2.15},{"s":22,"t":5,"v":2.3},{"s":22,"t":7,"v":2.95},{"s":22,"t":9,"v":4.6},{"s":22,"t":11,"v":7.7},{"s":22,"t":13,"v":10.2},
{"s":23,"t":0,"v":0},{"s":23,"t":1,"v":0.1},{"s":23,"t":3,"v":0.5},{"s":23,"t":5,"v":0.7},{"s":23,"t":7,"v":0.85},{"s":23,"t":9,"v":1.0},{"s":23,"t":11,"v":1.15},{"s":23,"t":13,"v":1.3},
{"s":24,"t":0,"v":0},{"s":24,"t":1,"v":0.1},{"s":24,"t":3,"v":0.3},{"s":24,"t":5,"v":0.45},{"s":24,"t":7,"v":0.6},{"s":24,"t":9,"v":0.75},{"s":24,"t":11,"v":0.9},{"s":24,"t":13,"v":1.05},
{"s":25,"t":0,"v":0},{"s":25,"t":1,"v":0.1},{"s":25,"t":3,"v":0.2},{"s":25,"t":5,"v":0.35},{"s":25,"t":7,"v":0.5},{"s":25,"t":9,"v":0.65},{"s":25,"t":11,"v":0.8},{"s":25,"t":13,"v":0.9},
{"s":26,"t":0,"v":0},{"s":26,"t":1,"v":0.1},{"s":26,"t":3,"v":0.25},{"s":26,"t":5,"v":0.4},{"s":26,"t":7,"v":0.55},{"s":26,"t":9,"v":0.7},{"s":26,"t":11,"v":0.85},{"s":26,"t":13,"v":1.0},
{"s":27,"t":0,"v":0},{"s":27,"t":1,"v":0.1},{"s":27,"t":3,"v":0.2},{"s":27,"t":5,"v":0.35},{"s":27,"t":7,"v":0.5},{"s":27,"t":9,"v":0.65},{"s":27,"t":11,"v":0.8},{"s":27,"t":13,"v":0.9}
],
"H":[
{"s":1,"t":0,"v":0},{"s":1,"t":1,"v":0.07},{"s":1,"t":3,"v":0.1},{"s":1,"t":5,"v":0.1},{"s":1,"t":7,"v":0.08},{"s":1,"t":9,"v":0.08},{"s":1,"t":11,"v":0.42},{"s":1,"t":13,"v":1.72},
{"s":2,"t":0,"v":0},{"s":2,"t":1,"v":0.08},{"s":2,"t":3,"v":0.08},{"s":2,"t":5,"v":0.08},{"s":2,"t":7,"v":0.07},{"s":2,"t":9,"v":0.07},{"s":2,"t":11,"v":0.08},{"s":2,"t":13,"v":0.08},
{"s":3,"t":0,"v":0},{"s":3,"t":1,"v":0.08},{"s":3,"t":3,"v":0.1},{"s":3,"t":5,"v":0.1},{"s":3,"t":7,"v":0.1},{"s":3,"t":9,"v":0.17},{"s":3,"t":11,"v":0.64},{"s":3,"t":13,"v":0.8},
{"s":4,"t":0,"v":0},{"s":4,"t":1,"v":0.08},{"s":4,"t":3,"v":0.15},{"s":4,"t":5,"v":0.1},{"s":4,"t":7,"v":0.08},{"s":4,"t":9,"v":0.08},{"s":4,"t":11,"v":0.4},{"s":4,"t":13,"v":1.2},
{"s":5,"t":0,"v":0},{"s":5,"t":1,"v":0.08},{"s":5,"t":3,"v":0.1},{"s":5,"t":5,"v":0.08},{"s":5,"t":7,"v":0.08},{"s":5,"t":9,"v":0.08},{"s":5,"t":11,"v":0.08},{"s":5,"t":13,"v":0.08},
{"s":6,"t":0,"v":0},{"s":6,"t":1,"v":0.1},{"s":6,"t":3,"v":0.25},{"s":6,"t":5,"v":0.1},{"s":6,"t":7,"v":0.08},{"s":6,"t":9,"v":0.08},{"s":6,"t":11,"v":0.12},{"s":6,"t":13,"v":0.47},
{"s":7,"t":0,"v":0},{"s":7,"t":1,"v":0.1},{"s":7,"t":3,"v":0.18},{"s":7,"t":5,"v":0.08},{"s":7,"t":7,"v":0.08},{"s":7,"t":9,"v":0.08},{"s":7,"t":11,"v":0.1},{"s":7,"t":13,"v":0.35},
{"s":8,"t":0,"v":0},{"s":8,"t":1,"v":0.08},{"s":8,"t":3,"v":0.08},{"s":8,"t":5,"v":0.08},{"s":8,"t":7,"v":0.07},{"s":8,"t":9,"v":0.07},{"s":8,"t":11,"v":0.07},{"s":8,"t":13,"v":0.08},
{"s":9,"t":0,"v":0},{"s":9,"t":1,"v":0.08},{"s":9,"t":3,"v":0.08},{"s":9,"t":5,"v":0.08},{"s":9,"t":7,"v":0.07},{"s":9,"t":9,"v":0.07},{"s":9,"t":11,"v":0.07},{"s":9,"t":13,"v":0.08},
{"s":10,"t":0,"v":0},{"s":10,"t":1,"v":0.1},{"s":10,"t":3,"v":0.2},{"s":10,"t":5,"v":0.1},{"s":10,"t":7,"v":0.08},{"s":10,"t":9,"v":0.08},{"s":10,"t":11,"v":0.08},{"s":10,"t":13,"v":0.1},
{"s":11,"t":0,"v":0},{"s":11,"t":1,"v":0.08},{"s":11,"t":3,"v":0.1},{"s":11,"t":5,"v":0.08},{"s":11,"t":7,"v":0.08},{"s":11,"t":9,"v":0.08},{"s":11,"t":11,"v":0.08},{"s":11,"t":13,"v":0.09},
{"s":12,"t":0,"v":0},{"s":12,"t":1,"v":0.08},{"s":12,"t":3,"v":0.08},{"s":12,"t":5,"v":0.08},{"s":12,"t":7,"v":0.07},{"s":12,"t":9,"v":0.08},{"s":12,"t":11,"v":0.08},{"s":12,"t":13,"v":0.08},
{"s":13,"t":0,"v":0},{"s":13,"t":1,"v":0.1},{"s":13,"t":3,"v":0.33},{"s":13,"t":5,"v":0.1},{"s":13,"t":7,"v":0.1},{"s":13,"t":9,"v":0.1},{"s":13,"t":11,"v":0.1},{"s":13,"t":13,"v":0.1},
{"s":14,"t":0,"v":0},{"s":14,"t":1,"v":0.1},{"s":14,"t":3,"v":0.25},{"s":14,"t":5,"v":0.08},{"s":14,"t":7,"v":0.1},{"s":14,"t":9,"v":0.08},{"s":14,"t":11,"v":0.08},{"s":14,"t":13,"v":0.1},
{"s":15,"t":0,"v":0},{"s":15,"t":1,"v":0.08},{"s":15,"t":3,"v":0.08},{"s":15,"t":5,"v":0.08},{"s":15,"t":7,"v":0.07},{"s":15,"t":9,"v":0.07},{"s":15,"t":11,"v":0.08},{"s":15,"t":13,"v":0.08},
{"s":16,"t":0,"v":0},{"s":16,"t":1,"v":0.07},{"s":16,"t":3,"v":0.07},{"s":16,"t":5,"v":0.08},{"s":16,"t":7,"v":0.07},{"s":16,"t":9,"v":0.07},{"s":16,"t":11,"v":0.08},{"s":16,"t":13,"v":0.08},
{"s":17,"t":0,"v":0},{"s":17,"t":1,"v":0.08},{"s":17,"t":3,"v":0.1},{"s":17,"t":5,"v":0.08},{"s":17,"t":7,"v":0.08},{"s":17,"t":9,"v":0.08},{"s":17,"t":11,"v":0.08},{"s":17,"t":13,"v":0.09},
{"s":18,"t":0,"v":0},{"s":18,"t":1,"v":0.08},{"s":18,"t":3,"v":0.08},{"s":18,"t":5,"v":0.08},{"s":18,"t":7,"v":0.07},{"s":18,"t":9,"v":0.07},{"s":18,"t":11,"v":0.08},{"s":18,"t":13,"v":0.08},
{"s":19,"t":0,"v":0},{"s":19,"t":1,"v":0.08},{"s":19,"t":3,"v":0.12},{"s":19,"t":5,"v":0.08},{"s":19,"t":7,"v":0.08},{"s":19,"t":9,"v":0.08},{"s":19,"t":11,"v":0.08},{"s":19,"t":13,"v":0.09},
{"s":20,"t":0,"v":0},{"s":20,"t":1,"v":0.07},{"s":20,"t":3,"v":0.08},{"s":20,"t":5,"v":0.1},{"s":20,"t":7,"v":0.07},{"s":20,"t":9,"v":0.07},{"s":20,"t":11,"v":0.07},{"s":20,"t":13,"v":0.08},
{"s":21,"t":0,"v":0},{"s":21,"t":1,"v":0.08},{"s":21,"t":3,"v":0.1},{"s":21,"t":5,"v":0.08},{"s":21,"t":7,"v":0.08},{"s":21,"t":9,"v":0.08},{"s":21,"t":11,"v":0.08},{"s":21,"t":13,"v":0.09},
{"s":22,"t":0,"v":0},{"s":22,"t":1,"v":0.1},{"s":22,"t":3,"v":1.05},{"s":22,"t":5,"v":0.1},{"s":22,"t":7,"v":0.33},{"s":22,"t":9,"v":0.82},{"s":22,"t":11,"v":1.55},{"s":22,"t":13,"v":1.25},
{"s":23,"t":0,"v":0},{"s":23,"t":1,"v":0.1},{"s":23,"t":3,"v":0.2},{"s":23,"t":5,"v":0.08},{"s":23,"t":7,"v":0.08},{"s":23,"t":9,"v":0.08},{"s":23,"t":11,"v":0.08},{"s":23,"t":13,"v":0.1},
{"s":24,"t":0,"v":0},{"s":24,"t":1,"v":0.08},{"s":24,"t":3,"v":0.1},{"s":24,"t":5,"v":0.08},{"s":24,"t":7,"v":0.08},{"s":24,"t":9,"v":0.08},{"s":24,"t":11,"v":0.08},{"s":24,"t":13,"v":0.09},
{"s":25,"t":0,"v":0},{"s":25,"t":1,"v":0.06},{"s":25,"t":3,"v":0.07},{"s":25,"t":5,"v":0.07},{"s":25,"t":7,"v":0.07},{"s":25,"t":9,"v":0.07},{"s":25,"t":11,"v":0.07},{"s":25,"t":13,"v":0.07},
{"s":26,"t":0,"v":0},{"s":26,"t":1,"v":0.07},{"s":26,"t":3,"v":0.08},{"s":26,"t":5,"v":0.08},{"s":26,"t":7,"v":0.07},{"s":26,"t":9,"v":0.07},{"s":26,"t":11,"v":0.07},{"s":26,"t":13,"v":0.08},
{"s":27,"t":0,"v":0},{"s":27,"t":1,"v":0.06},{"s":27,"t":3,"v":0.07},{"s":27,"t":5,"v":0.07},{"s":27,"t":7,"v":0.07},{"s":27,"t":9,"v":0.07},{"s":27,"t":11,"v":0.07},{"s":27,"t":13,"v":0.07}
],
"He":[
{"s":22,"t":3,"v":0.93,"v2":1.17},{"s":22,"t":11,"v":1.28,"v2":1.84},{"s":22,"t":7,"v":0.18,"v2":0.48},{"s":6,"t":13,"v":0.38,"v2":0.6},{"s":3,"t":9,"v":0.08,"v2":0.26},{"s":22,"t":1,"v":0.06,"v2":0.16},{"s":7,"t":13,"v":0.3,"v2":0.4}
]
},
"columns":2,
"bounds":"flush",
"spacing":{"row":42,"column":60},
"resolve":{"scale":{"color":"independent","x":"independent","y":"independent"},"legend":{"color":"independent"}},
"concat":[
{"width":208,"height":173,"data":{"name":"A"},
"title":{"text":"A","dy":24.5,"dx":-16},
"mark":{"type":"line","strokeWidth":0.8,"point":{"shape":"square","size":7,"filled":true}},
"encoding":{
"x":{"field":"t","type":"quantitative","scale":{"domain":[-1.2,13.4],"nice":false,"zero":false},"axis":{"title":"Composting Time (Day)","titleFontSize":8.5,"labelFontSize":7,"values":[0,1,2,3,4,5,6,7,8,9,10,11,12,13],"labelExpr":"datum.value == 0 || datum.value % 2 == 1 ? datum.value : ''","tickSize":{"condition":{"test":"datum.value > 0 && datum.value % 2 == 0","value":1.5},"value":3}}},
"y":{"field":"v","type":"quantitative","scale":{"domain":[-0.1,1.2],"nice":false,"zero":false},"axis":{"title":"NH₃ Cumulative Emissions (g/kg)","titleFontSize":8.5,"labelFontSize":7,"values":[0,0.1,0.2,0.3,0.4,0.5,0.6,0.7,0.8,0.9,1.0,1.1,1.2],"labelExpr":"round(datum.value*10) % 2 == 0 ? format(datum.value,'.1f') : ''","tickSize":{"condition":{"test":"round(datum.value*10) % 2 != 0","value":1.5},"value":3}}},
"color":{"field":"s","type":"nominal","scale":{"domain":[19,20,21,22,23,24,25,26,27],"range":["#333333","#FF2A2A","#1E5BC6","#11A05A","#D080D0","#F0A800","#18B4D8","#8B1A3A","#9C9A00"]},
"legend":{"legendX":31,"legendY":2,"columns":9,"labelFontSize":5,"symbolSize":81,"symbolStrokeWidth":1,"columnPadding":3,"padding":1.5}}
}},
{"width":214,"height":173,
"title":{"text":"B","dy":30,"dx":-5},
"encoding":{
"x":{"field":"t","type":"quantitative","scale":{"domain":[-2,15],"nice":false,"zero":false},"axis":{"title":"Composting Time (Day)","titleFontSize":7.5,"labelFontSize":6.5,"values":[-2,-1,0,1,2,3,4,5,6,7,8,9,10,11,12,13,14],"labelExpr":"datum.value % 2 == 0 ? datum.value : ''","tickSize":{"condition":{"test":"datum.value % 2 != 0","value":1.5},"value":3}}},
"y":{"field":"v","type":"quantitative","scale":{"domain":[-0.05,0.4],"nice":false,"zero":false},"axis":{"title":"NH₃ Emissions Rate (g/kg*d)","titleFontSize":7.5,"labelFontSize":6.5,"values":[-0.05,0,0.05,0.1,0.15,0.2,0.25,0.3,0.35,0.4],"labelExpr":"round(datum.value*100) % 10 == 0 ? format(datum.value,'.1f') : ''","tickSize":{"condition":{"test":"round(datum.value*100) % 10 != 0","value":1.5},"value":3}}},
"color":{"field":"s","type":"nominal","scale":{"domain":[1,2,3,4,5,6,7,8,9,10,11,12,13,14,15,16,17,18,19,20,21,22,23,24,25,26,27],"range":["#333333","#FF2A2A","#1E5BC6","#11A05A","#D080D0","#F0A800","#18B4D8","#8B1A3A","#9C9A00","#FF5A1A","#2E9BE8","#28A838","#F02890","#F07878","#F8A050","#F5D04A","#0F8040","#A88AD8","#28B8C8","#5A0A28","#38A8F0","#E8001C","#F29070","#F04060","#F08010","#2A2058","#C8C020"]},
"legend":{"legendX":3,"legendY":3,"columns":14,"labelFontSize":4,"symbolSize":36,"symbolStrokeWidth":0.9,"columnPadding":1.5,"padding":1.5}}},
"layer":[
{"data":{"name":"Be"},"mark":{"type":"rule","strokeWidth":0.7},"encoding":{"y2":{"field":"v2"}}},
{"data":{"name":"B"},"mark":{"type":"line","strokeWidth":1.1,"point":{"shape":"square","size":4,"filled":true}}}
]},
{"width":214,"height":173,"data":{"name":"C"},
"title":{"text":"C","dy":22.5,"dx":-14},
"mark":{"type":"line","strokeWidth":0.8,"point":{"shape":"square","size":4,"filled":true}},
"encoding":{
"x":{"field":"t","type":"quantitative","scale":{"domain":[-2.2,14.9],"nice":false,"zero":false},"axis":{"title":"Composting Time (Day)","titleFontSize":8,"labelFontSize":7,"values":[-2,-1,0,1,2,3,4,5,6,7,8,9,10,11,12,13,14],"labelExpr":"datum.value % 2 == 0 ? datum.value : ''","tickSize":{"condition":{"test":"datum.value % 2 != 0","value":1.5},"value":3}}},
"y":{"field":"v","type":"quantitative","scale":{"domain":[-1000,9000],"nice":false,"zero":false},"axis":{"title":"CO₂ Cumulative Emissions (mg/kg)","titleFontSize":9,"labelFontSize":7,"values":[-1000,-500,0,500,1000,1500,2000,2500,3000,3500,4000,4500,5000,5500,6000,6500,7000,7500,8000,8500,9000],"labelExpr":"datum.value % 1000 == 0 ? datum.value : ''","tickSize":{"condition":{"test":"datum.value % 1000 != 0","value":1.5},"value":3}}},
"color":{"field":"s","type":"nominal","scale":{"domain":[1,2,3,4,5,6,7,8,9,10,11,12,13,14,15,16,17,18,19,20,21,22,23,24,25,26,27],"range":["#333333","#FF2A2A","#1E5BC6","#11A05A","#D080D0","#F0A800","#18B4D8","#8B1A3A","#9C9A00","#FF5A1A","#2E9BE8","#28A838","#F02890","#F07878","#F8A050","#F5D04A","#0F8040","#A88AD8","#28B8C8","#5A0A28","#38A8F0","#E8001C","#F29070","#F04060","#F08010","#2A2058","#C8C020"]},
"legend":{"legendX":8,"legendY":4,"columns":14,"labelFontSize":4,"symbolSize":64,"symbolStrokeWidth":0.9,"columnPadding":2,"padding":1.5}}
}},
{"width":214,"height":173,
"title":{"text":"D","dy":13.5,"dx":-5},
"encoding":{
"x":{"field":"t","type":"quantitative","scale":{"domain":[-1,14],"nice":false,"zero":false},"axis":{"title":"Composting Time (Day)","titleFontSize":7.5,"labelFontSize":6.5,"values":[-1,0,1,2,3,4,5,6,7,8,9,10,11,12,13,14],"labelExpr":"datum.value % 2 == 0 ? datum.value : ''","tickSize":{"condition":{"test":"datum.value % 2 != 0","value":1.5},"value":3}}},
"y":{"field":"v","type":"quantitative","scale":{"domain":[-200,2000],"nice":false,"zero":false},"axis":{"title":"CO₂ Emissions Rate (g/kg*d)","titleFontSize":7.5,"labelFontSize":6.5,"values":[-200,-100,0,100,200,300,400,500,600,700,800,900,1000,1100,1200,1300,1400,1500,1600,1700,1800,1900,2000],"labelExpr":"datum.value % 200 == 0 ? datum.value : ''","tickSize":{"condition":{"test":"datum.value % 200 != 0","value":1.5},"value":3}}},
"color":{"field":"s","type":"nominal","scale":{"domain":[1,2,3,4,5,6,7,8,9,10,11,12,13,14,15,16,17,18,19,20,21,22,23,24,25,26,27],"range":["#333333","#FF2A2A","#1E5BC6","#11A05A","#D080D0","#F0A800","#18B4D8","#8B1A3A","#9C9A00","#FF5A1A","#2E9BE8","#28A838","#F02890","#F07878","#F8A050","#F5D04A","#0F8040","#A88AD8","#28B8C8","#5A0A28","#38A8F0","#E8001C","#F29070","#F04060","#F08010","#2A2058","#C8C020"]},
"legend":{"legendX":6,"legendY":4,"columns":14,"labelFontSize":4,"symbolSize":36,"symbolStrokeWidth":0.9,"columnPadding":1.5,"padding":1.5}}},
"layer":[
{"data":{"name":"De"},"mark":{"type":"rule","strokeWidth":0.7},"encoding":{"y2":{"field":"v2"}}},
{"data":{"name":"D"},"mark":{"type":"line","strokeWidth":1.1,"point":{"shape":"square","size":4,"filled":true}}}
]},
{"width":214,"height":173,"data":{"name":"E"},
"title":{"text":"E","dy":22.5,"dx":-20},
"mark":{"type":"line","strokeWidth":0.8,"point":{"shape":"square","size":4,"filled":true}},
"encoding":{
"x":{"field":"t","type":"quantitative","scale":{"domain":[-2.2,14.9],"nice":false,"zero":false},"axis":{"title":"Composting Time (Day)","titleFontSize":8,"labelFontSize":7,"values":[-2,-1,0,1,2,3,4,5,6,7,8,9,10,11,12,13,14],"labelExpr":"datum.value % 2 == 0 ? datum.value : ''","tickSize":{"condition":{"test":"datum.value % 2 != 0","value":1.5},"value":3}}},
"y":{"field":"v","type":"quantitative","scale":{"domain":[-1,10],"nice":false,"zero":false},"axis":{"title":"CH₄ Cumulative Emissions (mg/kg)","titleFontSize":9,"labelFontSize":7,"values":[-1,0,1,2,3,4,5,6,7,8,9,10],"labelExpr":"datum.value % 2 == 0 ? datum.value : ''","tickSize":{"condition":{"test":"datum.value % 2 != 0","value":1.5},"value":3}}},
"color":{"field":"s","type":"nominal","scale":{"domain":[1,2,3,4,5,6,7,8,9,10,11,12,13,14,15,16,17,18,19,20,21,22,23,24,25,26,27],"range":["#333333","#FF2A2A","#1E5BC6","#11A05A","#D080D0","#F0A800","#18B4D8","#8B1A3A","#9C9A00","#FF5A1A","#2E9BE8","#28A838","#F02890","#F07878","#F8A050","#F5D04A","#0F8040","#A88AD8","#28B8C8","#5A0A28","#38A8F0","#E8001C","#F29070","#F04060","#F08010","#2A2058","#C8C020"]},
"legend":{"legendX":8,"legendY":3,"columns":14,"labelFontSize":4,"symbolSize":64,"symbolStrokeWidth":0.9,"columnPadding":2,"padding":1.5}}
}},
{"width":214,"height":173,
"title":{"text":"F","dy":23,"dx":-5},
"encoding":{
"x":{"field":"t","type":"quantitative","scale":{"domain":[-2,14.8],"nice":false,"zero":false},"axis":{"title":"Composting Time (Day)","titleFontSize":7.5,"labelFontSize":6.5,"values":[-2,-1,0,1,2,3,4,5,6,7,8,9,10,11,12,13,14],"labelExpr":"datum.value % 2 == 0 ? datum.value : ''","tickSize":{"condition":{"test":"datum.value % 2 != 0","value":1.5},"value":3}}},
"y":{"field":"v","type":"quantitative","scale":{"domain":[-0.3,3.35],"nice":false,"zero":false},"axis":{"title":"CH₄ Emissions Rate (g/kg*d)","titleFontSize":7.5,"labelFontSize":7,"values":[-0.25,0,0.25,0.5,0.75,1,1.25,1.5,1.75,2,2.25,2.5,2.75,3,3.25],"labelExpr":"round(datum.value*100) % 50 == 0 ? format(datum.value,'.1f') : ''","tickSize":{"condition":{"test":"round(datum.value*100) % 50 != 0","value":1.5},"value":3}}},
"color":{"field":"s","type":"nominal","scale":{"domain":[1,2,3,4,5,6,7,8,9,10,11,12,13,14,15,16,17,18,19,20,21,22,23,24,25,26,27],"range":["#333333","#FF2A2A","#1E5BC6","#11A05A","#D080D0","#F0A800","#18B4D8","#8B1A3A","#9C9A00","#FF5A1A","#2E9BE8","#28A838","#F02890","#F07878","#F8A050","#F5D04A","#0F8040","#A88AD8","#28B8C8","#5A0A28","#38A8F0","#E8001C","#F29070","#F04060","#F08010","#2A2058","#C8C020"]},
"legend":{"legendX":5,"legendY":3,"columns":14,"labelFontSize":4,"symbolSize":36,"symbolStrokeWidth":0.9,"columnPadding":1.5,"padding":1.5}}},
"layer":[
{"data":{"name":"Fe"},"mark":{"type":"rule","strokeWidth":0.7},"encoding":{"y2":{"field":"v2"}}},
{"data":{"name":"F"},"mark":{"type":"line","strokeWidth":1.1,"point":{"shape":"square","size":4,"filled":true}}}
]},
{"width":214,"height":173,"data":{"name":"G"},
"title":{"text":"G","dy":25,"dx":-20},
"mark":{"type":"line","strokeWidth":0.8,"point":{"shape":"square","size":4,"filled":true}},
"encoding":{
"x":{"field":"t","type":"quantitative","scale":{"domain":[-2.2,14.9],"nice":false,"zero":false},"axis":{"title":"Composting Time (Day)","titleFontSize":8,"labelFontSize":7,"values":[-2,-1,0,1,2,3,4,5,6,7,8,9,10,11,12,13,14],"labelExpr":"datum.value % 2 == 0 ? datum.value : ''","tickSize":{"condition":{"test":"datum.value % 2 != 0","value":1.5},"value":3}}},
"y":{"field":"v","type":"quantitative","scale":{"domain":[-1,12],"nice":false,"zero":false},"axis":{"title":"N₂O Cumulative Emissions (mg/kg)","titleFontSize":9,"labelFontSize":7,"values":[-1,0,1,2,3,4,5,6,7,8,9,10,11,12],"labelExpr":"datum.value % 2 == 0 ? datum.value : ''","tickSize":{"condition":{"test":"datum.value % 2 != 0","value":1.5},"value":3}}},
"color":{"field":"s","type":"nominal","scale":{"domain":[1,2,3,4,5,6,7,8,9,10,11,12,13,14,15,16,17,18,19,20,21,22,23,24,25,26,27],"range":["#333333","#FF2A2A","#1E5BC6","#11A05A","#D080D0","#F0A800","#18B4D8","#8B1A3A","#9C9A00","#FF5A1A","#2E9BE8","#28A838","#F02890","#F07878","#F8A050","#F5D04A","#0F8040","#A88AD8","#28B8C8","#5A0A28","#38A8F0","#E8001C","#F29070","#F04060","#F08010","#2A2058","#C8C020"]},
"legend":{"legendX":8,"legendY":3,"columns":14,"labelFontSize":4,"symbolSize":64,"symbolStrokeWidth":0.9,"columnPadding":2,"padding":1.5}}
}},
{"width":214,"height":173,
"title":{"text":"H","dy":22,"dx":-7},
"encoding":{
"x":{"field":"t","type":"quantitative","scale":{"domain":[-2,15],"nice":false,"zero":false},"axis":{"title":"Composting Time (Day)","titleFontSize":7.5,"labelFontSize":6.5,"values":[-2,-1,0,1,2,3,4,5,6,7,8,9,10,11,12,13,14],"labelExpr":"datum.value % 2 == 0 ? datum.value : ''","tickSize":{"condition":{"test":"datum.value % 2 != 0","value":1.5},"value":3}}},
"y":{"field":"v","type":"quantitative","scale":{"domain":[-0.3,3.35],"nice":false,"zero":false},"axis":{"title":"N₂O Emissions Rate (g/kg*d)","titleFontSize":7.5,"labelFontSize":7,"values":[-0.25,0,0.25,0.5,0.75,1,1.25,1.5,1.75,2,2.25,2.5,2.75,3,3.25],"labelExpr":"round(datum.value*100) % 50 == 0 ? format(datum.value,'.1f') : ''","tickSize":{"condition":{"test":"round(datum.value*100) % 50 != 0","value":1.5},"value":3}}},
"color":{"field":"s","type":"nominal","scale":{"domain":[1,2,3,4,5,6,7,8,9,10,11,12,13,14,15,16,17,18,19,20,21,22,23,24,25,26,27],"range":["#333333","#FF2A2A","#1E5BC6","#11A05A","#D080D0","#F0A800","#18B4D8","#8B1A3A","#9C9A00","#FF5A1A","#2E9BE8","#28A838","#F02890","#F07878","#F8A050","#F5D04A","#0F8040","#A88AD8","#28B8C8","#5A0A28","#38A8F0","#E8001C","#F29070","#F04060","#F08010","#2A2058","#C8C020"]},
"legend":{"legendX":3,"legendY":3,"columns":14,"labelFontSize":4,"symbolSize":36,"symbolStrokeWidth":0.9,"columnPadding":1.5,"padding":1.5}}},
"layer":[
{"data":{"name":"He"},"mark":{"type":"rule","strokeWidth":0.7},"encoding":{"y2":{"field":"v2"}}},
{"data":{"name":"H"},"mark":{"type":"line","strokeWidth":1.1,"point":{"shape":"square","size":4,"filled":true}}}
]}
]
}
